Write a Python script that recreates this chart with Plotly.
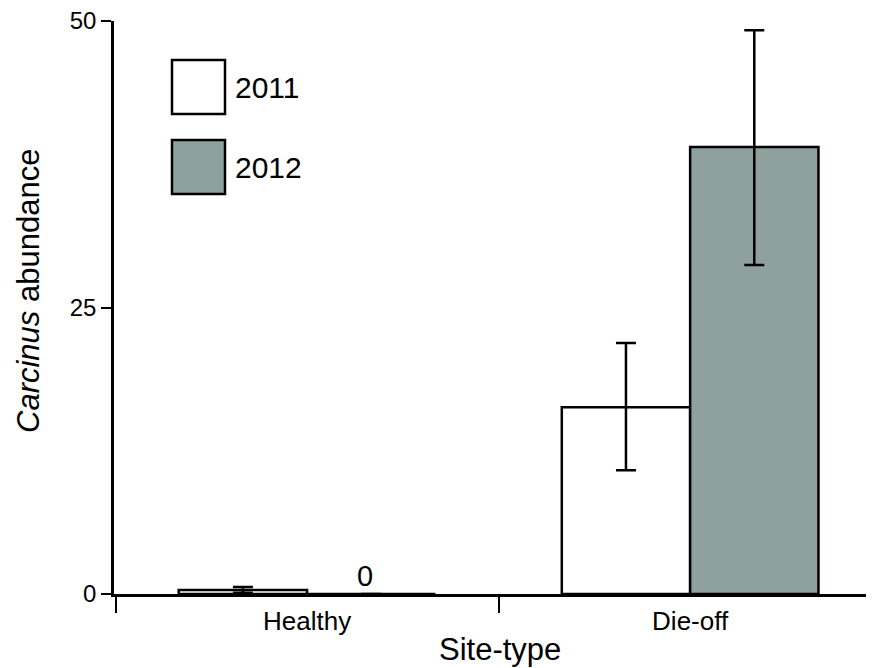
import plotly.graph_objects as go

site_types = ["Healthy", "Die-off"]
abundance_2011 = [0.35, 16.3]
err_up_2011 = [0.25, 5.6]
err_down_2011 = [0.25, 5.5]
abundance_2012 = [0, 39.0]
err_up_2012 = [0, 10.2]
err_down_2012 = [0, 10.3]
y_ticks = [0, 25, 50]

FONT = "Arial, Liberation Sans, sans-serif"
GREY = "#8fa19d"

fig = go.Figure()
fig.add_trace(go.Bar(
    x=site_types, y=abundance_2011, name="2011",
    marker=dict(color="white", line=dict(color="black", width=2.5)),
    error_y=dict(type="data", array=err_up_2011, arrayminus=err_down_2011,
                 color="black", thickness=2.5, width=10),
))
fig.add_trace(go.Bar(
    x=site_types, y=abundance_2012, name="2012",
    marker=dict(color=GREY, line=dict(color="black", width=2.5)),
    error_y=dict(type="data", array=err_up_2012, arrayminus=err_down_2012,
                 color="black", thickness=2.5, width=10),
))

# "0" label above the empty healthy 2012 bar
fig.add_annotation(x="Healthy", y=0, xshift=58, yshift=0, text="0", showarrow=False,
                   yanchor="bottom", font=dict(size=29, color="black", family=FONT))

# page has an 8px body margin, so the figure is drawn 8px smaller
W, H = 866, 660
L, T, B = 106, 13, 74
pw, ph = W - L, H - T - B
def px(x):
    return (x - 8 - L) / pw
def py(y):
    return (594 - y) / ph

for (top, fill, label) in [(60, "white", "2011"), (140, GREY, "2012")]:
    fig.add_shape(type="rect", xref="paper", yref="paper",
                  x0=px(172), x1=px(225), y0=py(top + 54), y1=py(top),
                  fillcolor=fill, line=dict(color="black", width=2.5))
    fig.add_annotation(xref="paper", yref="paper", x=px(233), y=py(top + 27),
                       text=label, showarrow=False, xanchor="left", yanchor="middle",
                       font=dict(size=30, color="black", family=FONT))

# axis titles
fig.add_annotation(xref="paper", yref="paper", x=px(500), y=py(649),
                   text="Site-type", showarrow=False, xanchor="center", yanchor="middle",
                   font=dict(size=31, color="black", family=FONT))
fig.add_annotation(xref="paper", yref="paper", x=px(28), y=py(291),
                   text="<i>Carcinus</i> abundance", showarrow=False, textangle=-90,
                   xanchor="center", yanchor="middle",
                   font=dict(size=31, color="black", family=FONT))

fig.update_layout(
    width=W, height=H,
    margin=dict(l=L, r=0, t=T, b=B, autoexpand=False),
    paper_bgcolor="white", plot_bgcolor="white",
    showlegend=False,
    barmode="group", bargap=0.33, bargroupgap=0,
    font=dict(family=FONT, color="black"),
)
fig.update_xaxes(
    range=[-0.504, 1.48], showline=True, linecolor="black", linewidth=2.5,
    ticks="outside", tickson="boundaries", ticklen=16, tickwidth=2, tickcolor="black",
    tickfont=dict(size=26), showgrid=False, zeroline=False, automargin=False,
    ticklabelstandoff=2,
)
fig.update_yaxes(
    range=[0, 50], tickvals=y_ticks, showline=True, linecolor="black", linewidth=2.5,
    ticks="outside", ticklen=10, tickwidth=2, tickcolor="black",
    tickfont=dict(size=24), showgrid=False, zeroline=False, automargin=False,
    ticklabeloverflow="allow",
)

fig.write_html("out.html")
